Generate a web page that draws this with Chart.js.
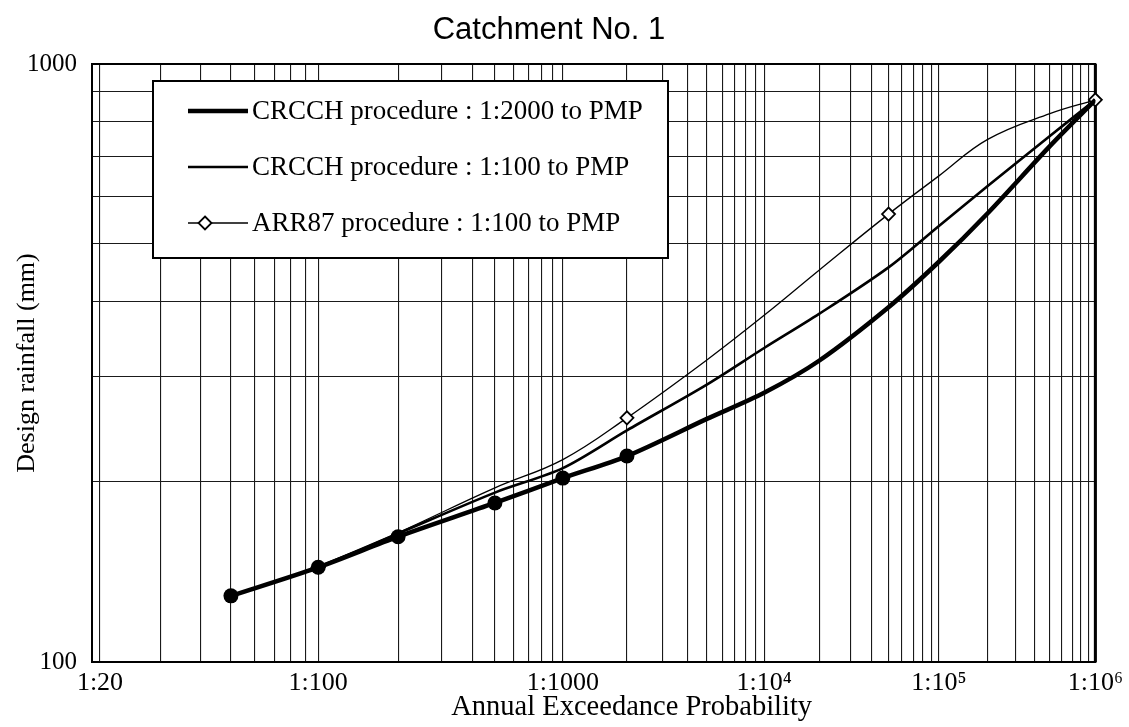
<!DOCTYPE html>
<html>
<head>
<meta charset="utf-8">
<title>Catchment No. 1</title>
<script src="https://cdn.jsdelivr.net/npm/chart.js@4.4.1/dist/chart.umd.min.js"></script>
<style>
  html, body { margin: 0; padding: 0; background: #fff; }
  #wrap { width: 1129px; height: 727px; }
</style>
</head>
<body>
<div id="wrap"><canvas id="rainChart"></canvas></div>
<script>
// AEP is given as the "1 in N" denominator; rainfall in mm.
const aepThick = [50, 100, 200, 500, 1000, 2000, 5000, 1e4, 2e4, 5e4, 1e5, 2e5, 5e5, 1e6];
const rainThick = [129, 144, 162, 184.5, 203, 221, 255, 282, 319, 392, 467, 563, 729, 871];
const thickDots = [true, true, true, true, true, true, false, false, false, false, false, false, false, false];

const aepMid = [100, 200, 500, 1000, 2000, 5000, 1e4, 2e4, 5e4, 1e5, 2e5, 5e5, 1e6];
const rainMid = [144, 164, 192, 211, 244, 291, 335, 382, 457, 536, 625, 758, 871];

const aepArr = [100, 200, 500, 1000, 2000, 5000, 1e4, 2e4, 5e4, 1e5, 2e5, 5e5, 1e6];
const rainArr = [144, 164.5, 195.5, 218, 256, 320, 380, 452, 561, 650, 748, 826, 871];
const arrDiamonds = [true, false, false, false, true, false, false, false, true, false, false, false, true];

const seriesNames = [
  "CRCCH procedure : 1:2000 to PMP",
  "CRCCH procedure : 1:100 to PMP",
  "ARR87 procedure : 1:100 to PMP"
];

const xLabelAep = [20, 100, 1000, 1e4, 1e5, 1e6];
const xLabels = ["1:20", "1:100", "1:1000", "1:10\u2074", "1:10\u2075", "1:10\u2076"];
const xMinAep = 19;
const xMaxAep = 1e6;

const yGrid = [100, 200, 300, 400, 500, 600, 700, 800, 900, 1000];
const yLabels = [100, 1000];

const SERIF = '"Liberation Serif", "Times New Roman", serif';

// inverse standard normal (Acklam)
const normInv = (p) => {
  const a = [-39.69683028665376, 220.9460984245205, -275.9285104469687, 138.3577518672690, -30.66479806614716, 2.506628277459239];
  const b = [-54.47609879822406, 161.5858368580409, -155.6989798598866, 66.80131188771972, -13.28068155288572];
  const c = [-0.007784894002430293, -0.3223964580411365, -2.400758277161838, -2.549671500713701, 4.374664141464968, 2.938163982698783];
  const d = [0.007784695709041462, 0.3224671290700398, 2.445134137142996, 3.754408661907416];
  const plow = 0.02425;
  if (p < plow) {
    const q = Math.sqrt(-2 * Math.log(p));
    return (((((c[0] * q + c[1]) * q + c[2]) * q + c[3]) * q + c[4]) * q + c[5]) /
      ((((d[0] * q + d[1]) * q + d[2]) * q + d[3]) * q + 1);
  }
  const q = p - 0.5;
  const r = q * q;
  return (((((a[0] * r + a[1]) * r + a[2]) * r + a[3]) * r + a[4]) * r + a[5]) * q /
    (((((b[0] * r + b[1]) * r + b[2]) * r + b[3]) * r + b[4]) * r + 1);
};

// probability paper: x is the standard normal deviate of the exceedance probability
const xOf = (denom) => -normInv(1 / denom);

const toPoints = (aeps, values) => aeps.map((n, i) => ({ x: xOf(n), y: values[i] }));

// grid lines at 1..9 x 10^n between the axis ends
const gridAep = [];
for (let decade = 10; decade < xMaxAep; decade *= 10) {
  for (let k = 1; k <= 9; k++) {
    const n = k * decade;
    if (n >= xMinAep && n <= xMaxAep) gridAep.push(n);
  }
}
gridAep.push(xMaxAep);

const chartBorder = {
  id: "chartBorder",
  beforeDatasetsDraw(chart) {
    const { ctx, chartArea: a } = chart;
    ctx.save();
    ctx.strokeStyle = "#000";
    ctx.lineWidth = 2;
    ctx.strokeRect(a.left, a.top, a.right - a.left, a.bottom - a.top);
    ctx.lineWidth = 3;
    ctx.beginPath();
    ctx.moveTo(a.right, a.top);
    ctx.lineTo(a.right, a.bottom);
    ctx.stroke();
    ctx.restore();
  }
};

const diamond = (ctx, x, y, r) => {
  ctx.beginPath();
  ctx.moveTo(x, y - r);
  ctx.lineTo(x + r, y);
  ctx.lineTo(x, y + r);
  ctx.lineTo(x - r, y);
  ctx.closePath();
  ctx.fill();
  ctx.stroke();
};

const legendBox = {
  id: "legendBox",
  afterDatasetsDraw(chart) {
    const { ctx, chartArea } = chart;
    const x0 = chartArea.left + 61;
    const y0 = chartArea.top + 17;
    ctx.save();
    ctx.fillStyle = "#fff";
    ctx.fillRect(x0, y0, 515, 177);
    ctx.strokeStyle = "#000";
    ctx.lineWidth = 2;
    ctx.strokeRect(x0, y0, 515, 177);

    chart.data.datasets.forEach((ds, i) => {
      const y = y0 + 30 + i * 56;
      ctx.strokeStyle = "#000";
      ctx.lineWidth = ds.borderWidth;
      ctx.beginPath();
      ctx.moveTo(x0 + 35, y);
      ctx.lineTo(x0 + 95, y);
      ctx.stroke();
      if (ds.pointStyle === "rectRot") {
        ctx.fillStyle = "#fff";
        ctx.lineWidth = ds.pointBorderWidth;
        diamond(ctx, x0 + 52, y, 6.5);
      }
      ctx.fillStyle = "#000";
      ctx.font = "27px " + SERIF;
      ctx.textBaseline = "middle";
      ctx.textAlign = "left";
      ctx.fillText(ds.label, x0 + 99, y + 1);
    });
    ctx.restore();
  }
};

// x axis caption, set a little right of centre
const xCaption = {
  id: "xCaption",
  afterDraw(chart) {
    const { ctx, chartArea } = chart;
    ctx.save();
    ctx.fillStyle = "#000";
    ctx.font = "28.5px " + SERIF;
    ctx.textAlign = "center";
    ctx.textBaseline = "middle";
    ctx.fillText("Annual Exceedance Probability", (chartArea.left + chartArea.right) / 2 + 38, 708);
    ctx.restore();
  }
};

new Chart(document.getElementById("rainChart"), {
  type: "line",
  data: {
    datasets: [
      {
        label: seriesNames[0],
        data: toPoints(aepThick, rainThick),
        borderColor: "#000",
        borderWidth: 4.5,
        pointRadius: thickDots.map((on) => (on ? 7.5 : 0)),
        pointStyle: "circle",
        pointBackgroundColor: "#000",
        pointBorderColor: "#000",
        pointBorderWidth: 0,
        tension: 0.3
      },
      {
        label: seriesNames[1],
        data: toPoints(aepMid, rainMid),
        borderColor: "#000",
        borderWidth: 2.6,
        pointRadius: 0,
        tension: 0.3
      },
      {
        label: seriesNames[2],
        data: toPoints(aepArr, rainArr),
        borderColor: "#000",
        borderWidth: 1.3,
        pointStyle: "rectRot",
        pointRadius: arrDiamonds.map((on) => (on ? 6.5 : 0)),
        pointBackgroundColor: "#fff",
        pointBorderColor: "#000",
        pointBorderWidth: 1.8,
        tension: 0.4,
        clip: false
      }
    ]
  },
  options: {
    responsive: true,
    maintainAspectRatio: false,
    animation: false,
    events: [],
    layout: { padding: { right: 31 } },
    plugins: {
      legend: { display: false },
      tooltip: { enabled: false },
      title: {
        display: true,
        text: "Catchment No. 1",
        color: "#000",
        font: { family: '"Liberation Sans", Arial, sans-serif', size: 31, weight: "normal", lineHeight: 1 },
        padding: { top: 15, bottom: 18 }
      }
    },
    scales: {
      x: {
        type: "linear",
        min: xOf(xMinAep),
        max: xOf(xMaxAep),
        afterBuildTicks: (scale) => {
          scale.ticks = gridAep.map((n) => ({ value: xOf(n) }));
        },
        afterFit: (scale) => { scale.height = 65; },
        ticks: {
          autoSkip: false,
          maxRotation: 0,
          minRotation: 0,
          padding: 6,
          color: "#000",
          font: { family: SERIF, size: 26 },
          callback: (value, index) => {
            const k = xLabelAep.indexOf(gridAep[index]);
            return k >= 0 ? xLabels[k] : "";
          }
        },
        grid: { color: "#1a1a1a", lineWidth: 1.1, drawTicks: false },
        border: { display: true, color: "#000", width: 2 }
      },
      y: {
        type: "logarithmic",
        min: 100,
        max: 1000,
        afterBuildTicks: (scale) => {
          scale.ticks = yGrid.map((v) => ({ value: v }));
        },
        afterFit: (scale) => { scale.width = 92; },
        ticks: {
          padding: 15,
          color: "#000",
          font: { family: SERIF, size: 25 },
          callback: (value) => (yLabels.includes(value) ? String(value) : "")
        },
        grid: { color: "#1a1a1a", lineWidth: 1.1, drawTicks: false },
        border: { display: true, color: "#000", width: 2 },
        title: {
          display: true,
          text: "Design rainfall (mm)",
          color: "#000",
          font: { family: SERIF, size: 26, lineHeight: 1.2 },
          padding: { top: 12, bottom: 0 }
        }
      }
    }
  },
  plugins: [chartBorder, legendBox, xCaption]
});
</script>
</body>
</html>
